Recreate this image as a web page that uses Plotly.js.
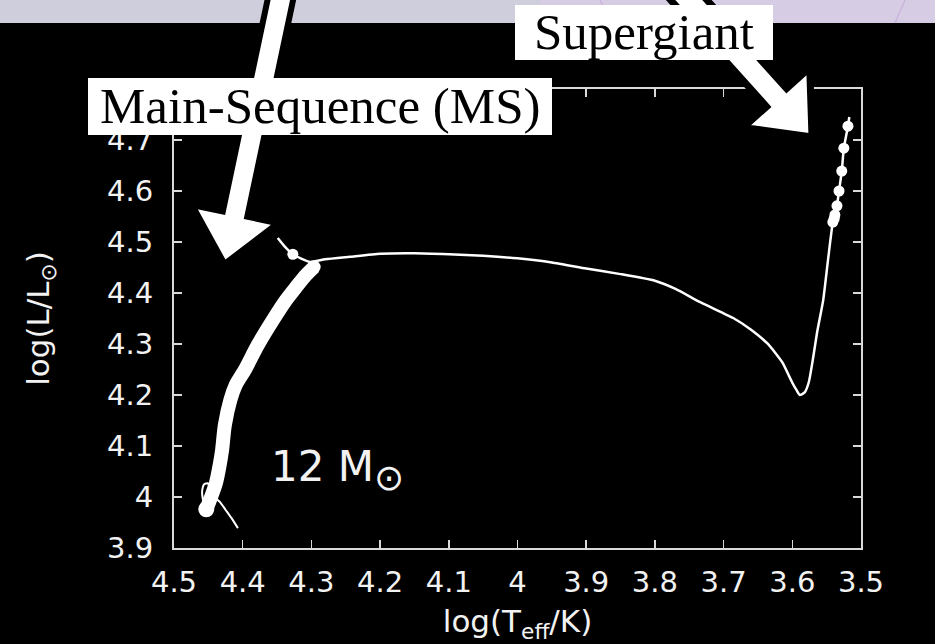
<!DOCTYPE html>
<html>
<head>
<meta charset="utf-8">
<script src="https://cdn.plot.ly/plotly-3.0.1.min.js"></script>
<style>
  html, body { margin: 0; padding: 0; background: #000; }
  #chart { width: 935px; height: 644px; }
</style>
</head>
<body>
<div id="chart"></div>
<script>
// Evolutionary track of a 12 solar-mass star in the HR diagram.

// Main sequence (ZAMS -> TAMS), drawn as a thick band
const teffMS = [4.453, 4.446, 4.439, 4.434, 4.430, 4.426, 4.418, 4.410, 4.397, 4.378,
                4.356, 4.337, 4.322, 4.308, 4.296];
const lumMS  = [3.976, 4.000, 4.027, 4.059, 4.092, 4.141, 4.190, 4.220, 4.249, 4.298,
                4.347, 4.386, 4.412, 4.435, 4.451];

// Pre-main-sequence approach with its small loop near the ZAMS
const teffPreMS = [4.407, 4.416, 4.425, 4.433, 4.441, 4.446, 4.451, 4.456, 4.459, 4.458, 4.455];
const lumPreMS  = [3.939, 3.958, 3.975, 3.990, 4.000, 4.012, 4.027, 4.025, 4.012, 3.996, 3.984];

// Post-main-sequence: hook, Hertzsprung gap and red supergiant branch
const teffPostMS = [4.349, 4.338, 4.327, 4.314, 4.302, 4.280, 4.244, 4.200, 4.150, 4.100,
                    4.050, 4.000, 3.950, 3.900, 3.850, 3.800, 3.770, 3.734, 3.700, 3.686,
                    3.660, 3.637, 3.625, 3.614, 3.605, 3.600, 3.594, 3.589, 3.582, 3.576,
                    3.570, 3.564, 3.555, 3.548, 3.541, 3.538, 3.535, 3.532, 3.528, 3.525,
                    3.519, 3.517];
const lumPostMS  = [4.508, 4.490, 4.476, 4.467, 4.461, 4.466, 4.471, 4.477, 4.478, 4.476,
                    4.473, 4.468, 4.460, 4.448, 4.437, 4.424, 4.408, 4.382, 4.360, 4.351,
                    4.328, 4.302, 4.283, 4.263, 4.238, 4.224, 4.210, 4.200, 4.205, 4.225,
                    4.270, 4.322, 4.386, 4.465, 4.539, 4.553, 4.571, 4.600, 4.639, 4.684,
                    4.727, 4.745];

// Marked models along the track
const teffDots = [4.327, 3.541, 3.539, 3.538, 3.535, 3.532, 3.528, 3.525, 3.519];
const lumDots  = [4.476, 4.539, 4.546, 4.553, 4.571, 4.600, 4.639, 4.684, 4.727];

// Axis ticks
const xTickVals = [4.5, 4.4, 4.3, 4.2, 4.1, 4.0, 3.9, 3.8, 3.7, 3.6, 3.5];
const xTickText = ['4.5', '4.4', '4.3', '4.2', '4.1', '4', '3.9', '3.8', '3.7', '3.6', '3.5'];
const yTickVals = [3.9, 4.0, 4.1, 4.2, 4.3, 4.4, 4.5, 4.6, 4.7, 4.8];
const yTickText = ['3.9', '4', '4.1', '4.2', '4.3', '4.4', '4.5', '4.6', '4.7', '4.8'];

// ---- page geometry (pixels) used for the decorative overlay ----
const W = 935, H = 644;
const M = { l: 174, r: 74, t: 89, b: 96 };
const PW = W - M.l - M.r, PH = H - M.t - M.b;
const px = (x) => (x - M.l) / PW;
const py = (y) => (H - M.b - y) / PH;
const pathOf = (pts) => 'M' + pts.map(p => px(p[0]).toFixed(5) + ',' + py(p[1]).toFixed(5)).join(' L') + ' Z';

// Block arrow from a start point to a tip, in pixels
function arrowPath(sx, sy, tx, ty, shaftHalf, headHalf, headLen) {
  const dx = tx - sx, dy = ty - sy, len = Math.hypot(dx, dy);
  const ux = dx / len, uy = dy / len, nx = uy, ny = -ux;
  const bx = tx - ux * headLen, by = ty - uy * headLen;
  return pathOf([
    [sx - nx * shaftHalf, sy - ny * shaftHalf],
    [bx - nx * shaftHalf, by - ny * shaftHalf],
    [bx - nx * headHalf, by - ny * headHalf],
    [tx, ty],
    [bx + nx * headHalf, by + ny * headHalf],
    [bx + nx * shaftHalf, by + ny * shaftHalf],
    [sx + nx * shaftHalf, sy + ny * shaftHalf]
  ]);
}

const white = '#ffffff';
const textColor = '#f2f2f2';
const traces = [
  { x: teffPreMS, y: lumPreMS, mode: 'lines', line: { color: white, width: 2, shape: 'spline', smoothing: 0.6 }, hoverinfo: 'skip' },
  { x: teffPostMS, y: lumPostMS, mode: 'lines', line: { color: white, width: 2.5, shape: 'spline', smoothing: 0.5 }, hoverinfo: 'skip' },
  { x: teffMS, y: lumMS, mode: 'lines', line: { color: white, width: 14, shape: 'spline', smoothing: 0.8 }, hoverinfo: 'skip' },
  { x: [teffMS[0]], y: [lumMS[0]], mode: 'markers', marker: { color: white, size: 16 }, hoverinfo: 'skip' },
  { x: [teffMS[teffMS.length - 1]], y: [lumMS[lumMS.length - 1]], mode: 'markers', marker: { color: white, size: 13 }, hoverinfo: 'skip' },
  { x: teffDots, y: lumDots, mode: 'markers', marker: { color: white, size: 11 }, hoverinfo: 'skip' }
];

const axisBase = {
  showgrid: false, zeroline: false,
  showline: true, linecolor: '#d9d9d9', linewidth: 2, mirror: 'ticks',
  ticks: 'inside', ticklen: 8, tickwidth: 1.5, tickcolor: '#d9d9d9',
  tickfont: { family: 'DejaVu Sans', size: 29, color: textColor },
  automargin: false, fixedrange: true
};

const shapes = [
  // pale strip along the top edge
  { type: 'rect', xref: 'paper', yref: 'paper', layer: 'above',
    x0: px(0), x1: px(W), y0: py(23), y1: py(-2), line: { width: 0 }, fillcolor: '#cfcedc' },
  { type: 'rect', xref: 'paper', yref: 'paper', layer: 'above',
    x0: px(540), x1: px(W), y0: py(23), y1: py(-2), line: { width: 0 }, fillcolor: 'rgba(218,204,232,0.6)' },
  { type: 'line', xref: 'paper', yref: 'paper', layer: 'above',
    x0: px(600), y0: py(0), x1: px(612), y1: py(23), line: { color: 'rgba(190,150,215,0.5)', width: 1.2 } },
  { type: 'line', xref: 'paper', yref: 'paper', layer: 'above',
    x0: px(905), y0: py(0), x1: px(895), y1: py(23), line: { color: 'rgba(190,150,215,0.5)', width: 1.2 } },
  // arrows
  { type: 'path', xref: 'paper', yref: 'paper', layer: 'above',
    path: arrowPath(282, -8, 224.5, 264, 12.5, 44, 51), fillcolor: white, line: { color: '#000', width: 6 } },
  { type: 'path', xref: 'paper', yref: 'paper', layer: 'above',
    path: arrowPath(678, -12, 812, 137, 13.5, 44.6, 53), fillcolor: white, line: { color: '#000', width: 7 } },
  // label boxes
  { type: 'rect', xref: 'paper', yref: 'paper', layer: 'above',
    x0: px(88), x1: px(552), y0: py(135), y1: py(78), line: { width: 0 }, fillcolor: white },
  { type: 'rect', xref: 'paper', yref: 'paper', layer: 'above',
    x0: px(515), x1: px(773), y0: py(60), y1: py(5), line: { width: 0 }, fillcolor: white }
];

const annotations = [
  { xref: 'paper', yref: 'paper', x: px(320), y: py(106), xanchor: 'center', yanchor: 'middle',
    text: 'Main-Sequence (MS)', showarrow: false,
    font: { family: 'Liberation Serif', size: 51, color: '#000' } },
  { xref: 'paper', yref: 'paper', x: px(644), y: py(32), xanchor: 'center', yanchor: 'middle',
    text: 'Supergiant', showarrow: false,
    font: { family: 'Liberation Serif', size: 51, color: '#000' } },
  { xref: 'x', yref: 'y', x: 4.361, y: 4.052, xanchor: 'left', yanchor: 'middle',
    text: '12 M<sub><span style="font-size:36px">⊙</span></sub>', showarrow: false,
    font: { family: 'DejaVu Sans', size: 42, color: textColor } }
];

const layout = {
  width: W, height: H,
  margin: M,
  paper_bgcolor: '#000', plot_bgcolor: '#000',
  showlegend: false,
  xaxis: Object.assign({}, axisBase, {
    range: [4.5, 3.5], tickvals: xTickVals, ticktext: xTickText, ticklabelstandoff: 7,
    title: { text: 'log(T<sub>eff</sub>/K)', font: { family: 'DejaVu Sans', size: 31, color: textColor }, standoff: 13 }
  }),
  yaxis: Object.assign({}, axisBase, {
    range: [3.9, 4.8], tickvals: yTickVals, ticktext: yTickText, ticklabelstandoff: 13,
    title: { text: 'log(L/L<sub>⊙</sub>)', font: { family: 'DejaVu Sans', size: 31, color: textColor }, standoff: 48 }
  }),
  shapes: shapes,
  annotations: annotations
};

Plotly.newPlot('chart', traces, layout, { staticPlot: true, displayModeBar: false });
</script>
</body>
</html>
